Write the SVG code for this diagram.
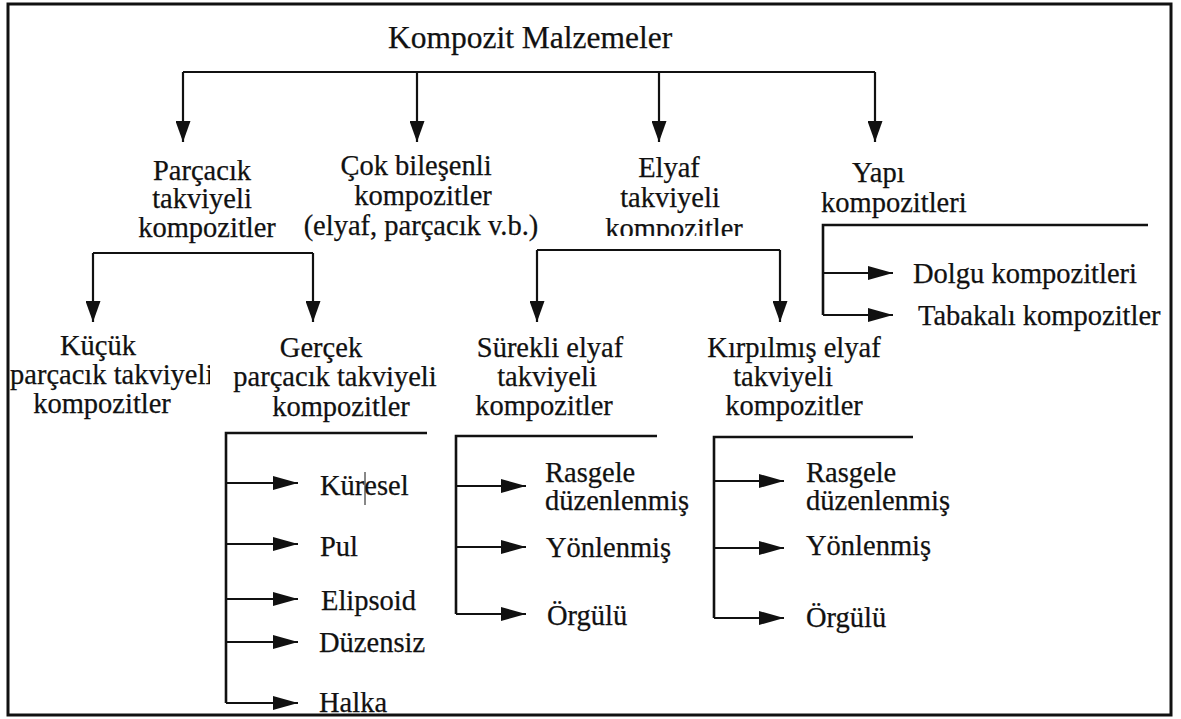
<svg xmlns="http://www.w3.org/2000/svg" width="1181" height="719" viewBox="0 0 1181 719">
<style>
text{font-family:"Liberation Serif","Times New Roman",serif;font-size:28.5px;fill:#111;stroke:#111;stroke-width:0.25;}
.t{font-size:31.5px;}
.m{text-anchor:middle;}
.c{fill:none;stroke:#111;stroke-width:2.2;}
.b{fill:none;stroke:#111;stroke-width:2.6;}
</style>
<defs>
<marker id="av" viewBox="0 0 21 15" refX="21" refY="7.5" markerWidth="21" markerHeight="15" markerUnits="userSpaceOnUse" orient="auto"><path d="M0,0 L21,7.5 L0,15 z" fill="#111"/></marker>
<marker id="ah" viewBox="0 0 25 14" refX="25" refY="7" markerWidth="25" markerHeight="14" markerUnits="userSpaceOnUse" orient="auto"><path d="M0,0 L25,7 L0,14 z" fill="#111"/></marker>
<clipPath id="clipK"><rect x="0" y="330" width="210" height="100"/></clipPath>
<clipPath id="clipE"><rect x="560" y="185" width="200" height="51"/></clipPath>
</defs>
<rect x="8" y="4" width="1163" height="711" fill="#fff" stroke="#111" stroke-width="3"/>

<g id="connectors">
<path class="c" d="M183,72 H875"/>
<path class="c" d="M183,72 V142" marker-end="url(#av)"/>
<path class="c" d="M417,72 V142" marker-end="url(#av)"/>
<path class="c" d="M659,72 V142" marker-end="url(#av)"/>
<path class="c" d="M875,72 V142" marker-end="url(#av)"/>
<path class="c" d="M93,253 H313"/>
<path class="c" d="M93,253 V322" marker-end="url(#av)"/>
<path class="c" d="M313,253 V322" marker-end="url(#av)"/>
<path class="c" d="M537,250 H780"/>
<path class="c" d="M537,250 V322" marker-end="url(#av)"/>
<path class="c" d="M780,250 V322" marker-end="url(#av)"/>
<path class="b" d="M1148,225 H823 V315"/>
<path class="c" d="M823,273 H893" marker-end="url(#ah)"/>
<path class="c" d="M823,315 H893" marker-end="url(#ah)"/>
<path class="b" d="M427,433 H226 V703"/>
<path class="c" d="M226,483 H298" marker-end="url(#ah)"/>
<path class="c" d="M226,544 H298" marker-end="url(#ah)"/>
<path class="c" d="M226,599 H298" marker-end="url(#ah)"/>
<path class="c" d="M226,642 H298" marker-end="url(#ah)"/>
<path class="c" d="M226,703 H298" marker-end="url(#ah)"/>
<path class="b" d="M657,436 H456 V614"/>
<path class="c" d="M456,486 H526" marker-end="url(#ah)"/>
<path class="c" d="M456,547 H526" marker-end="url(#ah)"/>
<path class="c" d="M456,614 H526" marker-end="url(#ah)"/>
<path class="b" d="M913,437 H714 V618"/>
<path class="c" d="M714,481 H784" marker-end="url(#ah)"/>
<path class="c" d="M714,548 H784" marker-end="url(#ah)"/>
<path class="c" d="M714,618 H784" marker-end="url(#ah)"/>
</g>

<g id="root"><text class="t" x="388" y="48">Kompozit Malzemeler</text></g>

<g id="parcacik"><text class="m" x="202" y="180">Parçacık</text><text class="m" x="202" y="208">takviyeli</text><text class="m" x="207" y="237">kompozitler</text></g>
<g id="cok"><text class="m" x="416" y="175">Çok bileşenli</text><text class="m" x="423" y="205">kompozitler</text><text class="m" x="421" y="235">(elyaf, parçacık v.b.)</text></g>
<g id="elyaf"><text class="m" x="669" y="177">Elyaf</text><text class="m" x="670" y="207">takviyeli</text><text class="m" x="674" y="238" clip-path="url(#clipE)">kompozitler</text></g>
<g id="yapi"><text x="852" y="182">Yapı</text><text x="821" y="212">kompozitleri</text></g>

<g id="kucuk"><text class="m" x="98" y="355">Küçük</text><text x="10" y="384" clip-path="url(#clipK)">parçacık takviyeli</text><text class="m" x="102" y="413">kompozitler</text></g>
<g id="gercek"><text class="m" x="321" y="357">Gerçek</text><text class="m" x="335" y="386">parçacık takviyeli</text><text class="m" x="341" y="416">kompozitler</text></g>
<g id="surekli"><text class="m" x="550" y="357">Sürekli elyaf</text><text class="m" x="547" y="386">takviyeli</text><text class="m" x="544" y="415">kompozitler</text></g>
<g id="kirpilmis"><text class="m" x="794" y="357">Kırpılmış elyaf</text><text class="m" x="783" y="386">takviyeli</text><text class="m" x="794" y="415">kompozitler</text></g>

<g id="dolgu"><text x="913" y="283">Dolgu kompozitleri</text></g>
<g id="tabakali"><text x="918" y="325">Tabakalı kompozitler</text></g>

<g id="kuresel"><text x="320" y="495">Küresel</text><line x1="365" y1="472" x2="365" y2="505" stroke="#111" stroke-width="1"/></g>
<g id="pul"><text x="320" y="556">Pul</text></g>
<g id="elipsoid"><text x="321" y="610">Elipsoid</text></g>
<g id="duzensiz"><text x="319" y="652">Düzensiz</text></g>
<g id="halka"><text x="319" y="712">Halka</text></g>

<g id="s-rasgele"><text x="545" y="482">Rasgele</text><text x="545" y="510">düzenlenmiş</text></g>
<g id="s-yonlenmis"><text x="546" y="557">Yönlenmiş</text></g>
<g id="s-orgulu"><text x="547" y="625">Örgülü</text></g>

<g id="k-rasgele"><text x="806" y="482">Rasgele</text><text x="806" y="510">düzenlenmiş</text></g>
<g id="k-yonlenmis"><text x="806" y="555">Yönlenmiş</text></g>
<g id="k-orgulu"><text x="806" y="627">Örgülü</text></g>
</svg>
